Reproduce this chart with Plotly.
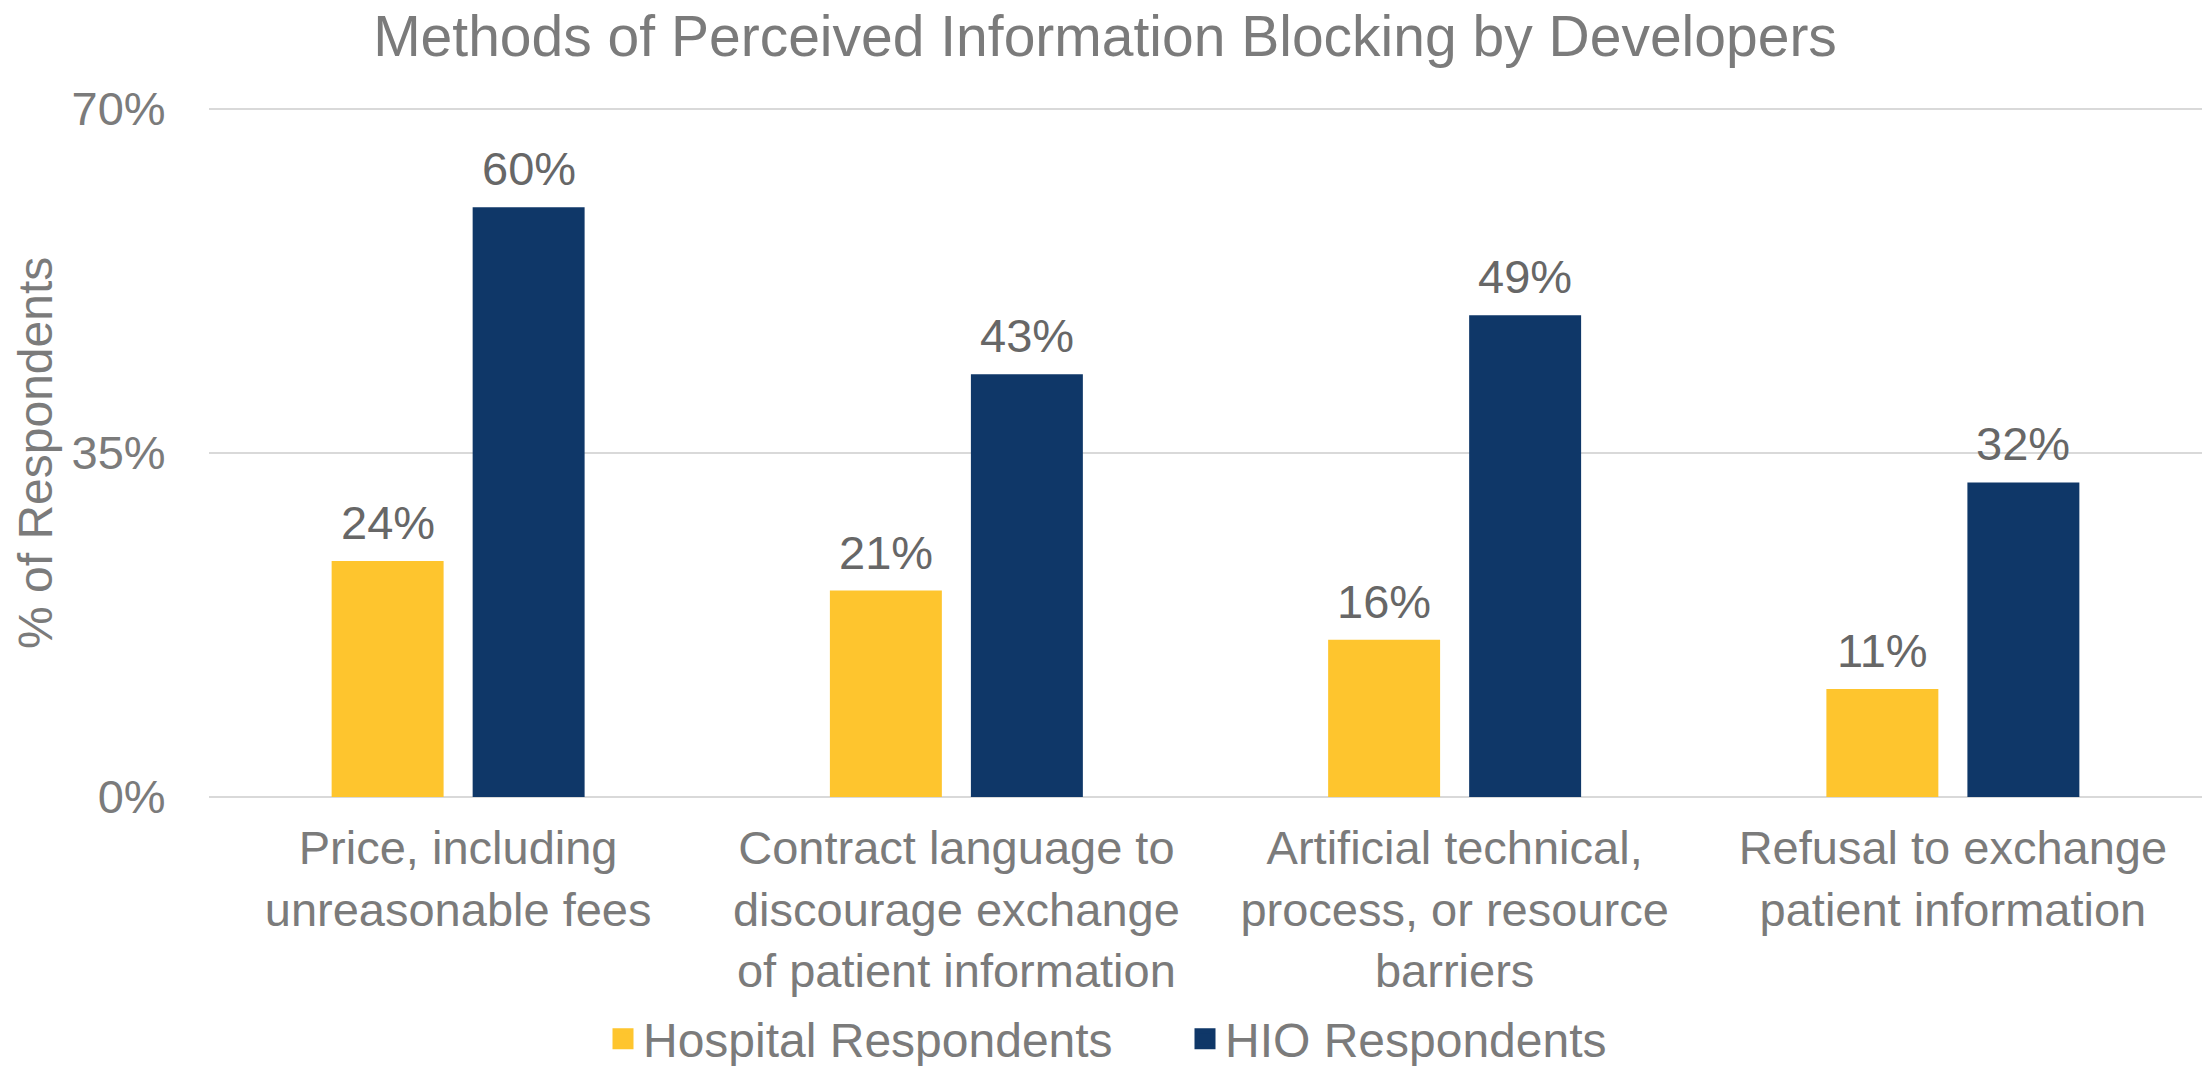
import plotly.graph_objects as go

categories = [
    "Price, including<br>unreasonable fees",
    "Contract language to<br>discourage exchange<br>of patient information",
    "Artificial technical,<br>process, or resource<br>barriers",
    "Refusal to exchange<br>patient information",
]
hospital = [24, 21, 16, 11]
hio = [60, 43, 49, 32]
series_names = ["Hospital Respondents", "HIO Respondents"]
colors = ["#FEC52E", "#0F3768"]
y_ticks = [0, 35, 70]
y_tick_labels = ["0%", "35%", "70%"]

FONT = "Liberation Sans, Arial, sans-serif"
GRAY = "#7b7b7b"
LABEL_GRAY = "#676767"

# page body has an 8px default margin; figure sized to fill the rest
W, H = 2203, 1058
ML, MR, MT, MB = 201, 9, 98, 269
Y_MAX = 70.3

fig = go.Figure()
for name, vals, col in zip(series_names, [hospital, hio], colors):
    fig.add_trace(go.Bar(x=categories, y=vals, name=name, marker_color=col,
                         marker_line_width=0, showlegend=False))
    # legend entries with larger square symbols
    fig.add_trace(go.Scatter(x=[None], y=[None], mode="markers", name=name,
                             marker=dict(symbol="square", size=16, color=col,
                                         line=dict(color=col, width=5)),
                             showlegend=True))

# data labels above bars
plot_w = W - ML - MR
plot_h = H - MT - MB
cat_px = plot_w / len(categories)
offset_px = 0.1415 * cat_px
for vals, sign in [(hospital, -1), (hio, 1)]:
    for c, v in zip(categories, vals):
        fig.add_annotation(x=c, y=v, text=f"{v}%", showarrow=False,
                           xshift=sign * offset_px, yanchor="bottom", yshift=10,
                           font=dict(family=FONT, size=47, color=LABEL_GRAY))

# y axis title
fig.add_annotation(xref="paper", yref="paper", x=(28 - ML) / plot_w,
                   y=35 / Y_MAX,
                   text="% of Respondents", textangle=-90, showarrow=False,
                   xanchor="center", yanchor="middle",
                   font=dict(family=FONT, size=48, color=GRAY))

fig.update_layout(
    width=W, height=H,
    margin=dict(l=ML, r=MR, t=MT, b=MB, autoexpand=False),
    paper_bgcolor="white", plot_bgcolor="white",
    barmode="group", bargap=0.434, bargroupgap=0.206,
    title=dict(text="Methods of Perceived Information Blocking by Developers",
               x=(1105 - 8) / W, xref="container", xanchor="center",
               y=1 - 28 / H, yref="container", yanchor="middle",
               font=dict(family=FONT, size=57, color=GRAY)),
    font=dict(family=FONT, color=GRAY),
    legend=dict(orientation="h", xref="container", yref="paper",
                x=(603 - 8) / W, xanchor="left",
                y=-(H + 11 - (H - MB)) / plot_h, yanchor="bottom",
                font=dict(family=FONT, size=48, color=GRAY),
                entrywidth=537, entrywidthmode="pixels",
                bgcolor="rgba(0,0,0,0)"),
    xaxis=dict(range=[-0.5, 3.5], showgrid=False, showline=False,
               ticks="outside", ticklen=10, tickcolor="rgba(0,0,0,0)",
               tickfont=dict(family=FONT, size=47, color=GRAY)),
    yaxis=dict(range=[0, Y_MAX], tickvals=y_ticks, ticktext=y_tick_labels,
               showgrid=True, gridcolor="#d9d9d9", gridwidth=2,
               zeroline=True, zerolinecolor="#d9d9d9", zerolinewidth=2,
               showline=False, ticks="outside", ticklen=33,
               tickcolor="rgba(0,0,0,0)",
               tickfont=dict(family=FONT, size=47, color=GRAY)),
)

fig.write_html("out.html")
